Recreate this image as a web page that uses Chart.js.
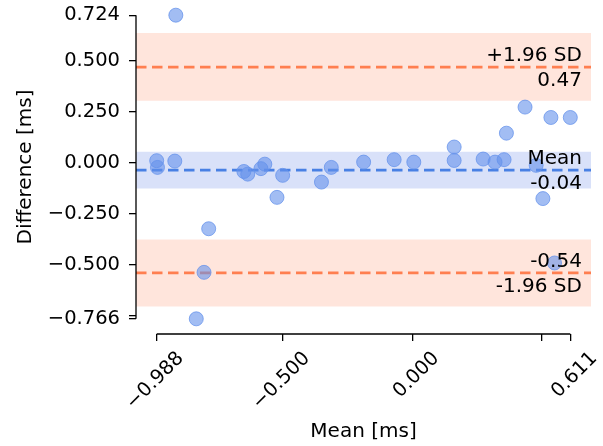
<!DOCTYPE html>
<html>
<head>
<meta charset="utf-8">
<script src="https://cdn.jsdelivr.net/npm/chart.js@4.4.1/dist/chart.umd.min.js"></script>
<style>
  html, body { margin: 0; padding: 0; background: #ffffff; }
  #wrap { width: 603px; height: 446px; }
</style>
</head>
<body>
<div id="wrap"><canvas id="c" width="603" height="446"></canvas></div>
<script>
// ---- data ----
const meanValues = [-0.988, -0.985, -0.918, -0.914, -0.835, -0.805, -0.787, -0.651, -0.636, -0.585,
                    -0.570, -0.523, -0.501, -0.351, -0.313, -0.188, -0.070, 0.006, 0.162, 0.162,
                    0.274, 0.320, 0.355, 0.364, 0.436, 0.479, 0.505, 0.536, 0.550, 0.611];
const diffValues = [0.010, -0.023, 0.008, 0.724, -0.766, -0.538, -0.324, -0.043, -0.056, -0.029,
                    -0.007, -0.170, -0.062, -0.095, -0.023, 0.003, 0.015, 0.003, 0.077, 0.011,
                    0.018, 0.003, 0.015, 0.145, 0.273, -0.013, -0.176, 0.222, -0.492, 0.222];

const meanDiff = -0.036;
const upperLoA = 0.469;
const lowerLoA = -0.541;
const meanCI  = [-0.127, 0.054];
const upperCI = [0.304, 0.637];
const lowerCI = [-0.706, -0.377];

const xTickValues = [-0.988, -0.5, 0, 0.5, 0.611];
const xTickLabels = ['\u22120.988', '\u22120.500', '0.000', '', '0.611'];
const yTickValues = [-0.766, -0.75, -0.5, -0.25, 0, 0.25, 0.5, 0.724];
const yTickLabels = ['\u22120.766', '', '\u22120.500', '\u22120.250', '0.000', '0.250', '0.500', '0.724'];

const xLabel = 'Mean [ms]';
const yLabel = 'Difference [ms]';

// ---- axis limits / styles ----
const X_MIN = -1.068, X_MAX = 0.691;
const Y_MIN = -0.8405, Y_MAX = 0.7985;
const ORANGE = 'rgb(255,127,80)';
const ORANGE_BAND = 'rgba(255,127,80,0.2)';
const BLUE = 'rgb(72,128,228)';
const BLUE_BAND = 'rgba(65,105,225,0.2)';
const FONT = 'DejaVu Sans';

function hLine(v) { return [{x: X_MIN, y: v}, {x: X_MAX, y: v}]; }

function bandPair(range, color, order) {
  return [
    { type: 'line', data: hLine(range[1]), borderColor: 'transparent', borderWidth: 0,
      pointRadius: 0, fill: false, order: order },
    { type: 'line', data: hLine(range[0]), borderColor: 'transparent', borderWidth: 0,
      pointRadius: 0, fill: '-1', backgroundColor: color, order: order }
  ];
}

function limitLine(v, color) {
  return { type: 'line', data: hLine(v), borderColor: color, borderWidth: 2.8,
           borderDash: [10.5, 5.5], pointRadius: 0, fill: false, order: 2 };
}

const points = meanValues.map((m, i) => ({x: m, y: diffValues[i]}));

const datasets = [
  ...bandPair(upperCI, ORANGE_BAND, 3),
  ...bandPair(meanCI, BLUE_BAND, 3),
  ...bandPair(lowerCI, ORANGE_BAND, 3),
  limitLine(upperLoA, ORANGE),
  limitLine(meanDiff, BLUE),
  limitLine(lowerLoA, ORANGE),
  { type: 'scatter', data: points, backgroundColor: 'rgba(100,145,235,0.6)',
    borderColor: 'rgba(100,145,235,0.75)', borderWidth: 1, pointRadius: 7, order: 1 }
];

// trimmed spines (from first to last tick)
const spinePlugin = {
  id: 'spines',
  afterDraw(chart) {
    const ctx = chart.ctx, xs = chart.scales.x, ys = chart.scales.y, a = chart.chartArea;
    ctx.save();
    ctx.strokeStyle = '#000';
    ctx.lineWidth = 1.3;
    ctx.beginPath();
    ctx.moveTo(a.left, ys.getPixelForValue(yTickValues[0]));
    ctx.lineTo(a.left, ys.getPixelForValue(yTickValues[yTickValues.length - 1]));
    ctx.moveTo(xs.getPixelForValue(xTickValues[0]), a.bottom);
    ctx.lineTo(xs.getPixelForValue(xTickValues[xTickValues.length - 1]), a.bottom);
    ctx.stroke();
    ctx.restore();
  }
};

// limit annotations
const annotPlugin = {
  id: 'annots',
  afterDatasetsDraw(chart) {
    const ctx = chart.ctx, ys = chart.scales.y, a = chart.chartArea;
    const xr = a.left + 0.98 * (a.right - a.left);
    const items = [
      [upperLoA, '+1.96 SD', upperLoA.toFixed(2)],
      [meanDiff, 'Mean', meanDiff.toFixed(2)],
      [lowerLoA, lowerLoA.toFixed(2), '-1.96 SD']
    ];
    ctx.save();
    ctx.fillStyle = '#000';
    ctx.font = '20px "' + FONT + '"';
    ctx.textAlign = 'right';
    ctx.textBaseline = 'alphabetic';
    for (const [v, above, below] of items) {
      const py = ys.getPixelForValue(v);
      ctx.fillText(above, xr, py - 6);
      ctx.fillText(below, xr, py + 18.7);
    }
    ctx.restore();
  }
};

new Chart(document.getElementById('c'), {
  type: 'scatter',
  data: { datasets },
  options: {
    responsive: false,
    animation: false,
    events: [],
    layout: { padding: { left: 0, right: 12, top: 0, bottom: 0 }, autoPadding: false },
    plugins: { legend: { display: false }, tooltip: { enabled: false } },
    scales: {
      x: {
        type: 'linear', min: X_MIN, max: X_MAX,
        afterBuildTicks: s => { s.ticks = xTickValues.map(v => ({value: v})); },
        afterFit: s => { s.height = 112; s.paddingLeft = 0; s.paddingRight = 0; s.paddingTop = 0; s.paddingBottom = 0; },
        border: { display: false },
        grid: { display: true, drawOnChartArea: false, drawTicks: true, tickLength: 7,
                color: '#000', tickColor: '#000', lineWidth: 1.3 },
        ticks: {
          autoSkip: false, minRotation: 45, maxRotation: 45, padding: 6, labelOffset: 24,
          color: '#000', font: { family: FONT, size: 19.5 },
          callback: (v, i) => xTickLabels[i]
        },
        title: { display: true, text: xLabel, color: '#000',
                 font: { family: FONT, size: 20 }, padding: { top: 0, bottom: 2 } }
      },
      y: {
        type: 'linear', min: Y_MIN, max: Y_MAX,
        afterBuildTicks: s => { s.ticks = yTickValues.map(v => ({value: v})); },
        afterFit: s => { s.width = 136; s.paddingLeft = 0; s.paddingRight = 0; s.paddingTop = 0; s.paddingBottom = 0; },
        border: { display: false },
        grid: { display: true, drawOnChartArea: false, drawTicks: true, tickLength: 7,
                color: '#000', tickColor: '#000', lineWidth: 1.3 },
        ticks: {
          autoSkip: false, padding: 9,
          color: '#000', font: { family: FONT, size: 19.5 },
          callback: (v, i) => yTickLabels[i]
        },
        title: { display: true, text: yLabel, color: '#000',
                 font: { family: FONT, size: 20 }, padding: { top: 14, bottom: 0 } }
      }
    }
  },
  plugins: [spinePlugin, annotPlugin]
});
</script>
</body>
</html>
